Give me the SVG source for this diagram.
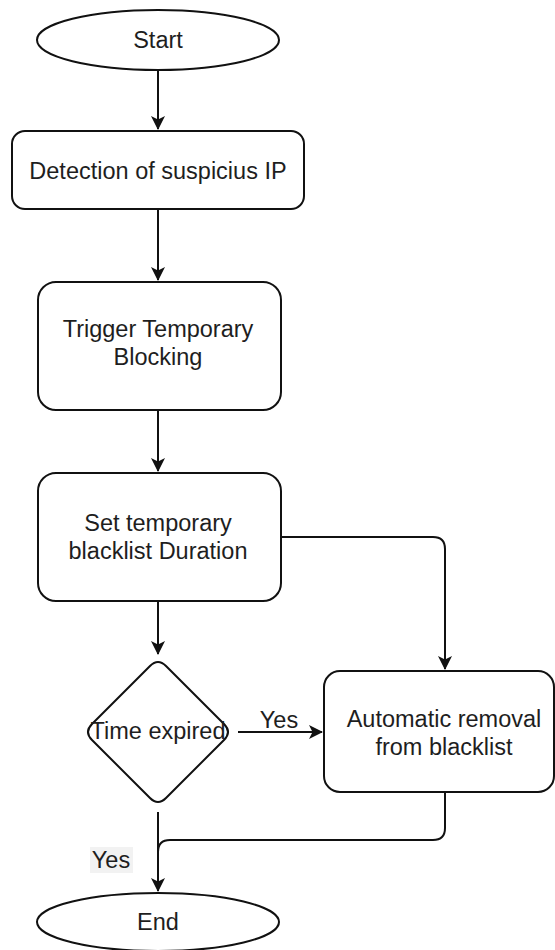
<svg xmlns="http://www.w3.org/2000/svg" width="555" height="950" viewBox="0 0 555 950">
<defs>
<style>
.s{fill:#fff;stroke:#111;stroke-width:2}
.t{font-family:"Liberation Sans",Arial,sans-serif;font-size:23.5px;fill:#1e1e1e;text-anchor:middle}
.c{fill:none;stroke:#111;stroke-width:2}
</style>
<marker id="a" viewBox="0 0 14 14" refX="13" refY="7" markerWidth="14" markerHeight="14" markerUnits="userSpaceOnUse" orient="auto">
<path d="M0,0 L14,7 L0,14 L3.5,7 Z" fill="#111"/>
</marker>
</defs>
<rect width="555" height="950" fill="#fff"/>
<g id="connectors">
<path class="c" d="M158,71 V129" marker-end="url(#a)"/>
<path class="c" d="M158,209 V280" marker-end="url(#a)"/>
<path class="c" d="M158,410 V471" marker-end="url(#a)"/>
<path class="c" d="M158,601 V654" marker-end="url(#a)"/>
<path class="c" d="M281,537 H433 Q445,537 445,549 V669" marker-end="url(#a)"/>
<path class="c" d="M238,732 H322" marker-end="url(#a)"/>
<path class="c" d="M158,812 V891" marker-end="url(#a)"/>
<path class="c" d="M445,792 V828 Q445,840 433,840 H170 Q158,840 158,852"/>
<text class="t" x="279" y="728">Yes</text>
<rect x="90" y="847" width="43" height="26" fill="#f2f2f2"/>
<text class="t" x="111" y="868">Yes</text>
</g>
<g id="start">
<ellipse class="s" cx="158" cy="40" rx="121" ry="30"/>
<text class="t" x="158" y="48">Start</text>
</g>
<g id="detect">
<rect class="s" x="12" y="131" width="292" height="78" rx="13"/>
<text class="t" x="158" y="179">Detection of suspicius IP</text>
</g>
<g id="trigger">
<rect class="s" x="38" y="282" width="243" height="128" rx="18"/>
<text class="t" x="158" y="337">Trigger Temporary</text>
<text class="t" x="158" y="365">Blocking</text>
</g>
<g id="settemp">
<rect class="s" x="38" y="473" width="243" height="128" rx="18"/>
<text class="t" x="158" y="531">Set temporary</text>
<text class="t" x="158" y="559">blacklist Duration</text>
</g>
<g id="decision">
<path class="s" d="M150,666 Q158,658 166,666 L224,724 Q232,732 224,740 L166,798 Q158,806 150,798 L92,740 Q84,732 92,724 Z"/>
<text class="t" x="158" y="739">Time expired</text>
</g>
<g id="removal">
<rect class="s" x="324" y="671" width="230" height="121" rx="16"/>
<text class="t" x="444" y="727">Automatic removal</text>
<text class="t" x="444" y="755">from blacklist</text>
</g>
<g id="end">
<ellipse class="s" cx="158" cy="922" rx="121" ry="29"/>
<text class="t" x="158" y="930">End</text>
</g>
</svg>
